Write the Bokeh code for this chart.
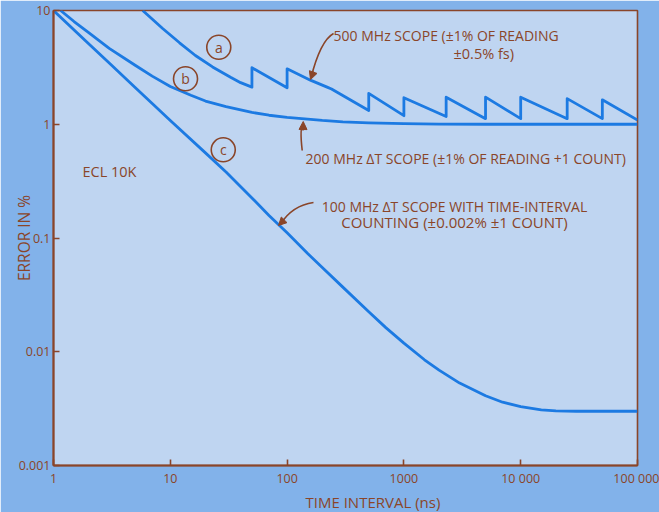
from bokeh.plotting import figure
from bokeh.models import Range1d, FixedTicker, Label, Arrow, NormalHead, Title
from bokeh.embed import file_html
from bokeh.resources import INLINE

# ---- data ----
# curve (a): 500 MHz scope, sawtooth from range switching
t_a = [5.8, 8.6, 12, 16.4, 23, 32.8, 40, 50, 50, 100, 100, 160, 220, 240,
       500, 500, 1000, 1000, 2300, 2300, 5000, 5000, 10000, 10000, 25000,
       25000, 50000, 50000, 100000]
e_a = [10, 6.95, 5.2, 4.02, 3.19, 2.59, 2.32, 2.12, 3.14, 2.09, 3.07, 2.43,
       2.12, 2.04, 1.32, 1.87, 1.19, 1.71, 1.17, 1.73, 1.12, 1.73, 1.12, 1.73,
       1.12, 1.68, 1.12, 1.64, 1.09]
# curve (b): 200 MHz delta-T scope
t_b = [1.15, 1.5, 2, 3, 5, 7, 10, 15, 20, 30, 50, 70, 100, 150, 200, 300,
       500, 1000, 2000, 5000, 100000]
e_b = [10, 8.0, 6.4, 4.65, 3.3, 2.65, 2.15, 1.8, 1.6, 1.43, 1.27, 1.2, 1.15,
       1.11, 1.08, 1.05, 1.03, 1.012, 1.004, 1.0, 1.0]
# curve (c): 100 MHz delta-T scope with time-interval counting
t_c = [1, 2, 3, 5, 7, 10, 20, 30, 50, 70, 100, 150, 200, 300, 500, 700,
       1000, 1500, 2000, 3000, 5000, 7000, 10000, 15000, 20000, 30000,
       50000, 100000]
e_c = [10, 5.1, 3.45, 2.1, 1.52, 1.08, 0.56, 0.38, 0.225, 0.158, 0.111,
       0.073, 0.055, 0.037, 0.0225, 0.0163, 0.0119, 0.0085, 0.0069, 0.0053,
       0.0041, 0.0036, 0.0033, 0.00308, 0.00302, 0.003, 0.003, 0.003]

x_ticks = [1, 10, 100, 1000, 10000, 100000]
x_tick_labels = ["1", "10", "100", "1000", "10 000", "100 000"]
y_ticks = [0.001, 0.01, 0.1, 1, 10]
y_tick_labels = ["0.001", "0.01", "0.1", "1", "10"]

BROWN = "#8a4529"
BLUE = "#1c7ae2"
PLOT_BG = "#bfd5f1"
BORDER_BG = "#82b2ea"
FONT = "Open Sans"

p = figure(width=659, height=512, x_axis_type="log", y_axis_type="log",
           x_range=Range1d(1, 1e5), y_range=Range1d(1e-3, 10),
           output_backend="svg", toolbar_location=None,
           min_border_left=53, min_border_right=22, min_border_top=10,
           min_border_bottom=47,
           background_fill_color=PLOT_BG, border_fill_color=BORDER_BG,
           outline_line_color=BROWN, outline_line_width=1.6)
p.grid.visible = False

for ax in (p.xaxis[0], p.yaxis[0]):
    ax.axis_line_color = BROWN
    ax.axis_line_width = 2
    ax.major_tick_line_color = BROWN
    ax.major_tick_line_width = 1.6
    ax.major_tick_in = 6
    ax.major_tick_out = 0
    ax.minor_tick_line_color = None
    ax.major_label_text_color = BROWN
    ax.major_label_text_font = FONT
    ax.major_label_text_font_size = "12.5px"

p.xaxis.ticker = FixedTicker(ticks=x_ticks, minor_ticks=[])
p.xaxis.major_label_overrides = dict(zip(x_ticks, x_tick_labels))
p.xaxis.major_label_standoff = 4
p.yaxis.ticker = FixedTicker(ticks=y_ticks, minor_ticks=[])
p.yaxis.major_label_overrides = dict(zip(y_ticks, y_tick_labels))
p.yaxis.major_label_standoff = 3

p.yaxis.axis_label = "ERROR IN %"
p.yaxis.axis_label_text_font = FONT
p.yaxis.axis_label_text_font_size = "15.5px"
p.yaxis.axis_label_text_font_style = "normal"
p.yaxis.axis_label_text_color = BROWN
p.yaxis.axis_label_standoff = -19

p.add_layout(Title(text="TIME INTERVAL (ns)", align="left", offset=252,
                   standoff=0, text_font=FONT, text_font_size="15px",
                   text_font_style="normal", text_color=BROWN), "below")

# curves
for t, e in ((t_a, e_a), (t_b, e_b), (t_c, e_c)):
    p.line(t, e, line_color=BLUE, line_width=2.8, line_join="round")

# circled letters
circ_x = [26, 13.5, 28.4]
circ_y = [4.75, 2.51, 0.596]
p.scatter(circ_x, circ_y, marker="circle", size=24, fill_color=None,
          line_color=BROWN, line_width=1.6)
for cx, cy, s in zip(circ_x, circ_y, ["a", "b", "c"]):
    p.add_layout(Label(x=cx, y=cy, text=s, text_align="center",
                       text_baseline="middle", text_color=BROWN,
                       text_font=FONT, text_font_size="14px"))

def lab(x, y, s, align="left", size="14px"):
    p.add_layout(Label(x=x, y=y, text=s, text_align=align,
                       text_baseline="middle", text_color=BROWN,
                       text_font=FONT, text_font_size=size))

lab(250, 6.03, "500 MHz  SCOPE (\u00b11% OF READING")
lab(2660, 4.23, "\u00b10.5% fs)", size="14.5px")
lab(144, 0.505, "200 MHz \u0394T  SCOPE (\u00b11% OF READING +1 COUNT)")
lab(2712, 0.189, "100 MHz \u0394T SCOPE WITH TIME-INTERVAL", align="center")
lab(2712, 0.1396, "COUNTING (\u00b10.002% \u00b11 COUNT)", align="center",
    size="15px")
lab(1.77, 0.384, "ECL 10K", size="14.5px")

# pointer curves
p.quadratic(x0=[250, 134.7, 168.3], y0=[6.28, 0.588, 0.205],
            x1=[160, 137.2, 88.0], y1=[2.55, 1.0, 0.133],
            cx=[193, 127.7, 111.2], cy=[5.45, 0.936, 0.193],
            line_color=BROWN, line_width=1.6)
for xs, ys, xe, ye in ((168, 2.91, 158.6, 2.47),
                       (136.8, 0.881, 137.4, 1.057),
                       (95, 0.1455, 84.4, 0.1288)):
    p.add_layout(Arrow(end=NormalHead(size=8, fill_color=BROWN,
                                      line_color=BROWN),
                       x_start=xs, y_start=ys, x_end=xe, y_end=ye,
                       line_color=BROWN, line_width=1.6))

open("out.html", "w").write(file_html(p, INLINE))
